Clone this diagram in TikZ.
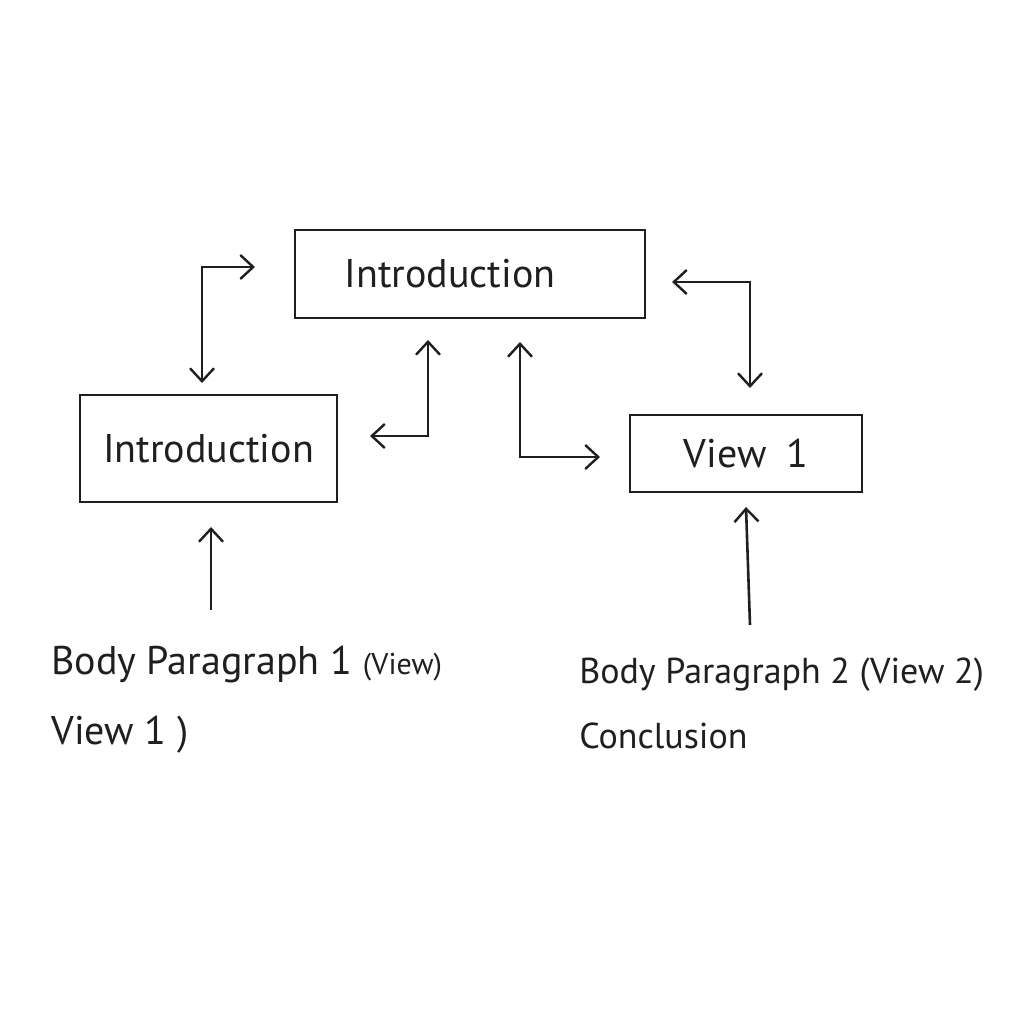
\documentclass[tikz,border=0pt]{standalone}
\usepackage{fontspec}
\setmainfont{PT Sans}
\usetikzlibrary{arrows.meta,positioning}

\begin{document}
\begin{tikzpicture}[
    x=1pt, y=-1pt, % 以像素為單位
    line width=2.6pt, % 手繪線條
    >={Straight Barb[length=13pt,width=24pt,line width=2.4pt]}, % 開口箭頭
    color=black!88,
    % 定義通用樣式
    box/.style={
        draw,
        line width=2.6pt,
        inner sep=0pt,
        font=\fontsize{40}{48}\selectfont
    },
    note/.style={
        font=\fontsize{40}{70}\selectfont,
        align=left,
        anchor=north west,
        inner sep=0pt
    }
]
    \useasboundingbox[fill=white] (0,0) rectangle (1024,1024);

    % --- 1. Boxes ---
    \node[box, minimum width=350pt, minimum height=88pt] (intro) at (470,274) {Introduction\hspace*{40pt}};
    \node[box, minimum width=257pt, minimum height=107pt] (introleft) at (208.5,448.5) {Introduction};
    \node[box, minimum width=232pt, minimum height=77pt] (view) at (746,453.5) {View\enspace 1};

    % --- 2. Notes ---
    \node[note] (bodyone) at (50,645) {Body Paragraph 1 {\fontsize{30}{30}\selectfont(View)}\\View 1 )};
    \node[note, font=\fontsize{36}{65}\selectfont] (bodytwo) at (578,657) {Body Paragraph 2 (View 2)\\Conclusion};

    % --- 3. Arrow ends ---
    \coordinate (a1) at (202,383);
    \coordinate (a2) at (255,267);
    \coordinate (b1) at (370,436);
    \coordinate (b2) at (428,340);
    \coordinate (c1) at (520,342);
    \coordinate (c2) at (600,457);
    \coordinate (d1) at (672,282);
    \coordinate (d2) at (750,388);
    \coordinate (e1) at (211,610);
    \coordinate (e2) at (211,527);
    \coordinate (f1) at (750,625);
    \coordinate (f2) at (746,507);

    % --- 4. Arrows ---
    \draw[<->] (a1) |- (a2);
    \draw[<->] (b1) -| (b2);
    \draw[<->] (c1) |- (c2);
    \draw[<->] (d1) -| (d2);
    \draw[->] (e1) -- (e2);
    \draw[->] (f1) -- (f2);

\end{tikzpicture}
\end{document}
